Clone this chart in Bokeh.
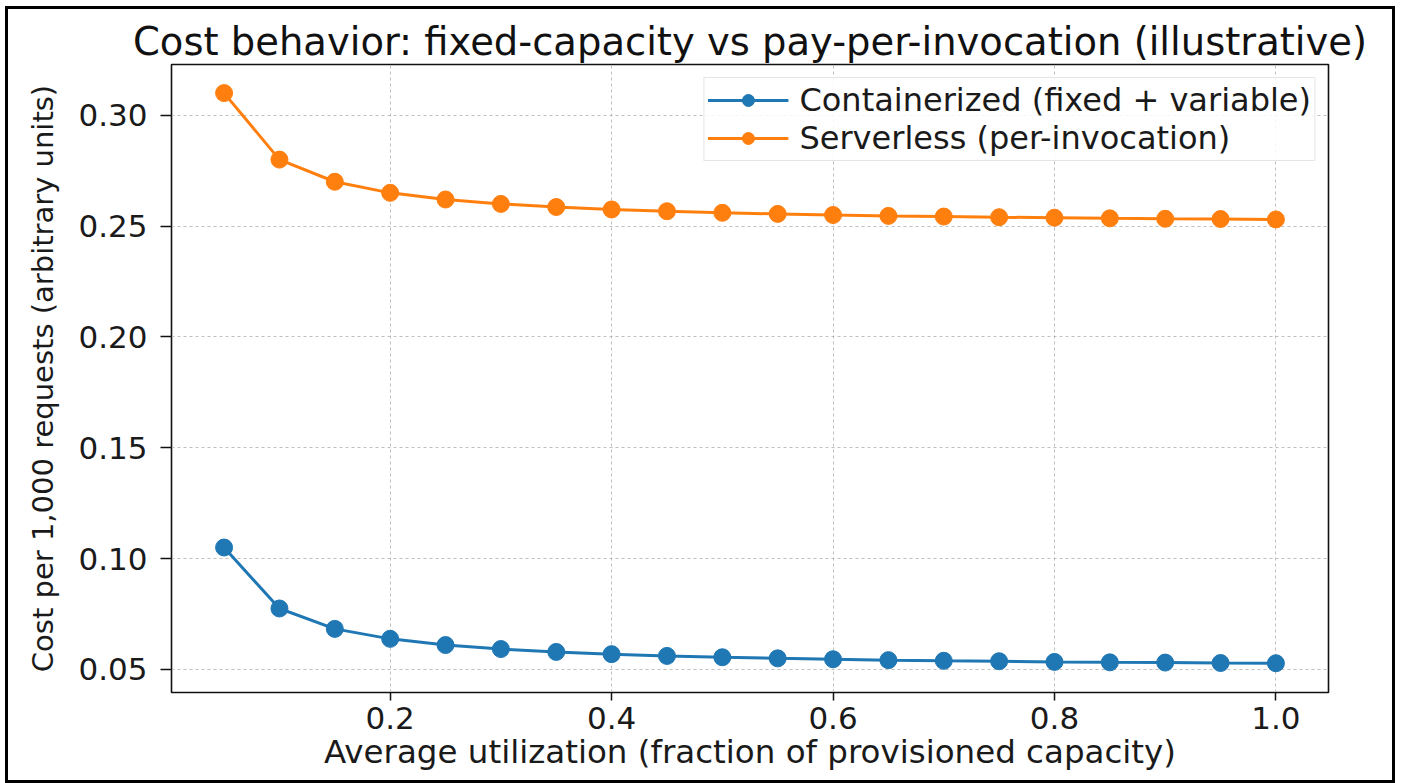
from bokeh.plotting import figure
from bokeh.models import Range1d, FixedTicker, Legend, LegendItem
from bokeh.embed import file_html
from bokeh.resources import INLINE

# Average utilization (fraction of provisioned capacity)
utilization = [0.05, 0.10, 0.15, 0.20, 0.25, 0.30, 0.35, 0.40, 0.45, 0.50,
               0.55, 0.60, 0.65, 0.70, 0.75, 0.80, 0.85, 0.90, 0.95, 1.00]

# Cost per 1,000 requests (arbitrary units)
containerized = [0.105, 0.0775, 0.0683, 0.0638, 0.0610, 0.0592, 0.0579, 0.0569,
                 0.0561, 0.0555, 0.0550, 0.0546, 0.0542, 0.0539, 0.0537, 0.0534,
                 0.0532, 0.0531, 0.0529, 0.0528]
serverless = [0.310, 0.280, 0.270, 0.265, 0.262, 0.260, 0.2586, 0.2575,
              0.2567, 0.2560, 0.2555, 0.2550, 0.2546, 0.2543, 0.2540, 0.2538,
              0.2535, 0.2533, 0.2532, 0.2530]

series_names = ["Containerized (fixed + variable)", "Serverless (per-invocation)"]
series_colors = ["#1f77b4", "#ff7f0e"]

x_ticks = [0.2, 0.4, 0.6, 0.8, 1.0]
y_ticks = [0.05, 0.10, 0.15, 0.20, 0.25, 0.30]

FONT = "DejaVu Sans"

p = figure(
    width=1390, height=777,
    x_range=Range1d(0.0025, 1.0475),
    y_range=Range1d(0.0396, 0.3229),
    output_backend="svg", toolbar_location=None,
    min_border_left=163, min_border_right=70,
    min_border_top=55, min_border_bottom=94,
)
p.styles = {"margin-left": "5px", "margin-top": "6px", "border": "3px solid #000000"}

p.title.text = "Cost behavior: fixed-capacity vs pay-per-invocation (illustrative)"
p.title.text_font = FONT
p.title.text_font_size = "38.5px"
p.title.text_font_style = "normal"
p.title.text_color = "#111111"
p.title.align = "center"
p.title.standoff = 2

p.outline_line_color = "#111111"
p.outline_line_width = 1.6
p.background_fill_color = "white"
p.border_fill_color = "white"

for grid in (p.xgrid, p.ygrid):
    grid.grid_line_color = "#b0b0b0"
    grid.grid_line_dash = "3 3"
    grid.grid_line_alpha = 0.8
    grid.grid_line_width = 1

p.xaxis.ticker = FixedTicker(ticks=x_ticks)
p.yaxis.ticker = FixedTicker(ticks=y_ticks)
p.xaxis.major_label_overrides = {t: f"{t:.1f}" for t in x_ticks}
p.yaxis.major_label_overrides = {t: f"{t:.2f}" for t in y_ticks}

for ax in (p.xaxis, p.yaxis):
    ax.axis_line_color = None
    ax.major_tick_line_color = "#111111"
    ax.major_tick_line_width = 1.5
    ax.major_tick_in = 0
    ax.minor_tick_line_color = None
    ax.major_label_text_font = FONT
    ax.major_label_text_font_size = "31px"
    ax.major_label_text_color = "#1a1a1a"
    ax.axis_label_text_font = FONT
    ax.axis_label_text_font_style = "normal"
    ax.axis_label_text_color = "#1a1a1a"

p.xaxis.major_tick_out = 8
p.yaxis.major_tick_out = 11
p.xaxis.major_label_standoff = 6
p.yaxis.major_label_standoff = 13

p.xaxis.axis_label = "Average utilization (fraction of provisioned capacity)"
p.xaxis.axis_label_text_font_size = "32.5px"
p.xaxis.axis_label_standoff = 1
p.yaxis.axis_label = "Cost per 1,000 requests (arbitrary units)"
p.yaxis.axis_label_text_font_size = "29px"
p.yaxis.axis_label_standoff = 15

items = []
for name, ys, color in zip(series_names, [containerized, serverless], series_colors):
    ln = p.line(utilization, ys, line_color=color, line_width=3)
    sc = p.scatter(utilization, ys, size=17, fill_color=color, line_color=color)
    items.append(LegendItem(label=name, renderers=[ln, sc]))

legend = Legend(
    items=items, location="top_right",
    label_text_font=FONT, label_text_font_size="32px", label_text_color="#1a1a1a",
    label_height=30,
    glyph_width=81, glyph_height=30, label_standoff=11,
    padding=3, spacing=0, margin=13,
    border_line_color="#cccccc", border_line_width=1.2,
    background_fill_alpha=0.85,
)
p.add_layout(legend)

open("out.html", "w").write(file_html(p, INLINE))
